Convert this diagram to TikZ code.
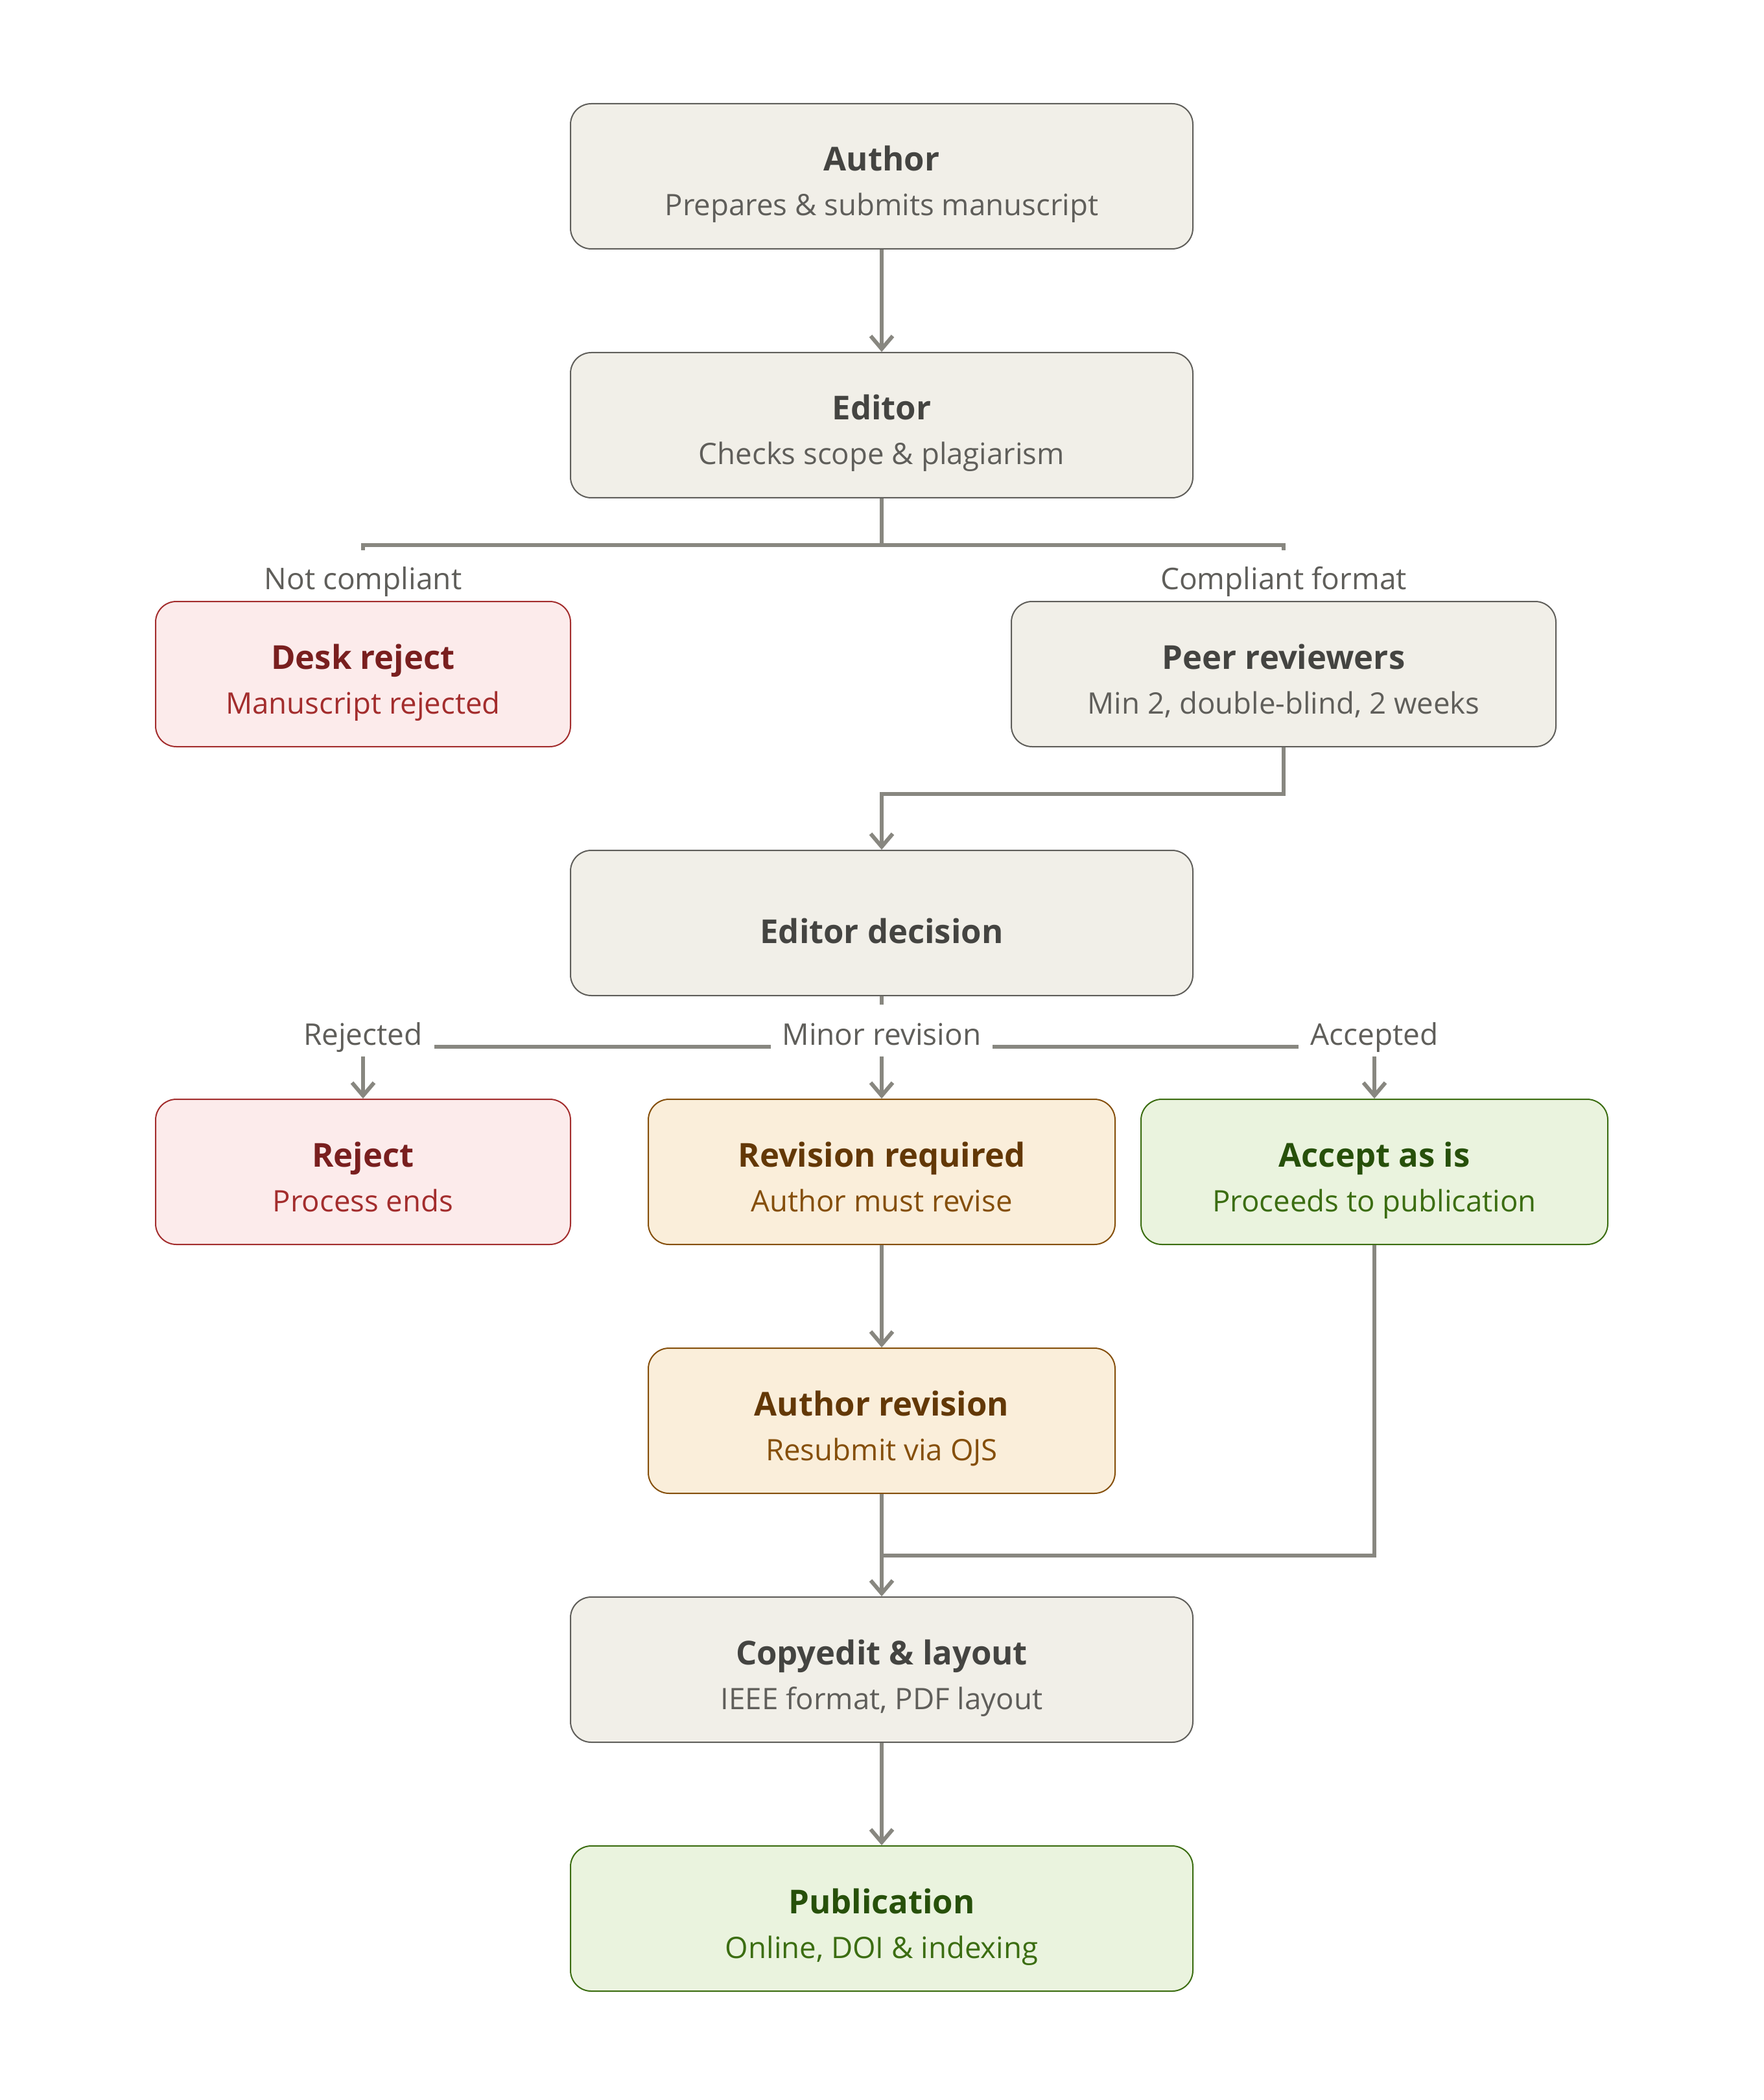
\documentclass[tikz,border=0pt]{standalone}
\usepackage{fontspec}
\setmainfont{Open Sans}
\usetikzlibrary{arrows.meta}

\definecolor{wire}{HTML}{888780}
\definecolor{lbltext}{HTML}{5F5E5A}
\definecolor{grayfill}{HTML}{F1EFE8}\definecolor{grayline}{HTML}{5F5E5A}
\definecolor{grayttl}{HTML}{444441}\definecolor{graysub}{HTML}{5F5E5A}
\definecolor{redfill}{HTML}{FCEBEB}\definecolor{redline}{HTML}{A32D2D}
\definecolor{redttl}{HTML}{791F1F}\definecolor{redsub}{HTML}{A32D2D}
\definecolor{ambfill}{HTML}{FAEEDA}\definecolor{ambline}{HTML}{854F0B}
\definecolor{ambttl}{HTML}{633806}\definecolor{ambsub}{HTML}{854F0B}
\definecolor{grnfill}{HTML}{EAF3DE}\definecolor{grnline}{HTML}{3B6D11}
\definecolor{grnttl}{HTML}{27500A}\definecolor{grnsub}{HTML}{3B6D11}

\newcommand{\hd}[1]{{\fontsize{12.7}{17.25}\selectfont\bfseries\color{ttl}#1}}

\tikzset{
  stage/.style={rounded corners=8pt, draw, line width=0.5pt, minimum height=56pt,
    inner sep=0pt, align=center, text height=30.5pt, text depth=0pt,
    font=\fontsize{11.4}{17.25}\selectfont},
  graybox/.style={stage, fill=grayfill, draw=grayline, text=graysub,
    execute at begin node=\colorlet{ttl}{grayttl}},
  redbox/.style={stage, fill=redfill, draw=redline, text=redsub,
    execute at begin node=\colorlet{ttl}{redttl}},
  ambbox/.style={stage, fill=ambfill, draw=ambline, text=ambsub,
    execute at begin node=\colorlet{ttl}{ambttl}},
  grnbox/.style={stage, fill=grnfill, draw=grnline, text=grnsub,
    execute at begin node=\colorlet{ttl}{grnttl}},
  link/.style={draw=wire, line width=1.5pt},
  flow/.style={link, -{Straight Barb[length=5pt,width=8.5pt]}},
  lbl/.style={fill=white, text=lbltext, inner xsep=4.5pt, inner ysep=0pt,
    minimum height=20pt, text height=11pt, text depth=0pt,
    font=\fontsize{11.5}{14}\selectfont}
}

\begin{document}
\begin{tikzpicture}[x=1pt, y=-1pt]
  \useasboundingbox (0,0) rectangle (680,810);

  % boxes
  \node[graybox, minimum width=240pt] (author) at (340,68) {\hd{Author}\\Prepares \& submits manuscript};
  \node[graybox, minimum width=240pt] (editor) at (340,164) {\hd{Editor}\\Checks scope \& plagiarism};
  \node[redbox, minimum width=160pt] (desk) at (140,260) {\hd{Desk reject}\\Manuscript rejected};
  \node[graybox, minimum width=210pt] (peer) at (495,260) {\hd{Peer reviewers}\\Min 2, double-blind, 2 weeks};
  \node[graybox, minimum width=240pt, text height=15.5pt] (decision) at (340,356) {\hd{Editor decision}};
  \node[redbox, minimum width=160pt] (reject) at (140,452) {\hd{Reject}\\Process ends};
  \node[ambbox, minimum width=180pt] (revreq) at (340,452) {\hd{Revision required}\\Author must revise};
  \node[grnbox, minimum width=180pt] (accept) at (530,452) {\hd{Accept as is}\\Proceeds to publication};
  \node[ambbox, minimum width=180pt] (authrev) at (340,548) {\hd{Author revision}\\Resubmit via OJS};
  \node[graybox, minimum width=240pt] (copyedit) at (340,644) {\hd{Copyedit \& layout}\\IEEE format, PDF layout};
  \node[grnbox, minimum width=240pt] (publ) at (340,740) {\hd{Publication}\\Online, DOI \& indexing};
  \coordinate (join) at (340,600);

  % labels of the first split
  \node[lbl, anchor=south, minimum height=18.5pt] (l1) at ([yshift=0.5pt]desk.north) {Not compliant};
  \node[lbl, anchor=south, minimum height=18.5pt] (l2) at ([yshift=0.5pt]peer.north) {Compliant format};

  % connectors
  \draw[flow] (author) -- (editor);
  \draw[link] (editor.south) -- ++(0,18) -| (l1.north);
  \draw[link] (editor.south) -- ++(0,18) -| (l2.north);
  \draw[flow] (peer.south) -- ++(0,18) -| (decision.north);
  \draw[flow] (decision.south) -- ++(0,19.5) -| (reject.north);
  \draw[flow] (decision.south) -- ++(0,19.5) -| (accept.north);
  \draw[flow] (decision) -- (revreq);
  \draw[flow] (revreq) -- (authrev);
  \draw[link] (accept.south) |- (join);
  \draw[flow] (authrev) -- (copyedit);
  \draw[flow] (copyedit) -- (publ);

  % decision labels
  \node[lbl, anchor=south] (l3) at ([yshift=16pt]reject.north) {Rejected};
  \node[lbl, anchor=south] (l4) at ([yshift=16pt]revreq.north) {Minor revision};
  \node[lbl, anchor=south] (l5) at ([yshift=16pt]accept.north) {Accepted};
\end{tikzpicture}
\end{document}
